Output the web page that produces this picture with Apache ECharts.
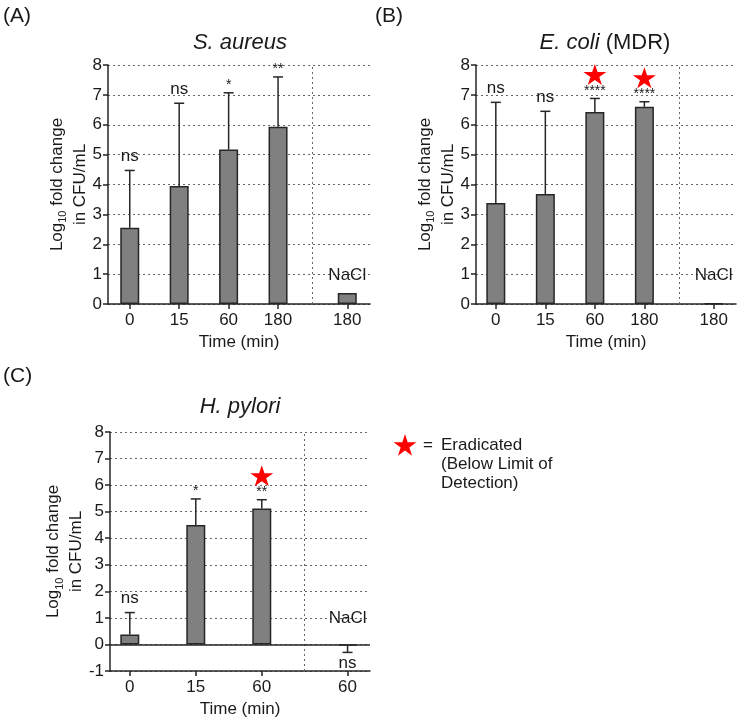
<!DOCTYPE html>
<html>
<head>
<meta charset="utf-8">
<script src="https://cdn.jsdelivr.net/npm/echarts@6/dist/echarts.min.js"></script>
<style>
  html, body { margin: 0; padding: 0; background: #fff; }
  #chart { width: 738px; height: 722px; }
</style>
</head>
<body>
<div id="chart"></div>
<script>
// tick labels under each bar (last one is the NaCl control)
var timesA = ['0', '15', '60', '180', '180'];
var timesB = ['0', '15', '60', '180', '180'];
var timesC = ['0', '15', '60', '60'];
// slot of each group on the x axis
var slotsAB = [1, 2, 3, 4, 5.4];
var slotsC = [1, 2, 3, 4.3];
var splitAB = 4.7;
var splitC = 3.65;

// S. aureus
var meanA = [2.55, 3.95, 5.17, 5.93, 0.37];
var errA = [4.47, 6.72, 7.07, 7.6, 0.37];
var sigA = ['ns', 'ns', '*', '**', ''];
var goneA = [0, 0, 0, 0, 0];

// E. coli (MDR)
var meanB = [3.38, 3.68, 6.43, 6.6, 0.02];
var errB = [6.75, 6.45, 6.88, 6.77, 0.02];
var sigB = ['ns', 'ns', '****', '****', ''];
var goneB = [0, 0, 1, 1, 0];

// H. pylori
var meanC = [0.37, 4.5, 5.12, -0.05];
var errC = [1.2, 5.48, 5.45, -0.3];
var sigC = ['ns', '*', '**', 'ns'];
var goneC = [0, 0, 1, 0];

var FONT = 'Liberation Sans, Arial, sans-serif';
var INK = '#1a1a1a';
var LINE = '#262626';
var STAR = 'path://M100,0 L122.45,69.1 L195.1,69.1 L136.33,111.8 L158.78,180.9 L100,138.2 L41.22,180.9 L63.67,111.8 L4.9,69.1 L77.55,69.1 Z';

var chart = echarts.init(document.getElementById('chart'));

function errorBar(params, api) {
  var x = api.value(0);
  var p0 = api.coord([x, api.value(1)]);
  var p1 = api.coord([x, api.value(2)]);
  var st = { stroke: LINE, lineWidth: 1.5 };
  return {
    type: 'group',
    children: [
      { type: 'line', shape: { x1: p0[0], y1: p0[1], x2: p1[0], y2: p1[1] }, style: st },
      { type: 'line', shape: { x1: p1[0] - 5, y1: p1[1], x2: p1[0] + 5, y2: p1[1] }, style: st }
    ]
  };
}

function xAxisFor(i, slots, labels, min, max) {
  return {
    type: 'value', gridIndex: i, min: min, max: max,
    name: 'Time (min)', nameLocation: 'middle', nameGap: 30,
    nameTextStyle: { fontSize: 17, color: INK, fontFamily: FONT },
    axisLine: { show: true, onZero: false, lineStyle: { color: LINE, width: 1.5 } },
    axisTick: { show: true, customValues: slots, length: 5, lineStyle: { color: LINE, width: 1.5 } },
    axisLabel: {
      customValues: slots, fontSize: 17, color: INK, fontFamily: FONT, margin: 8,
      formatter: function (v) {
        for (var k = 0; k < slots.length; k++) if (Math.abs(slots[k] - v) < 1e-6) return labels[k];
        return '';
      }
    },
    splitLine: { show: false }
  };
}

function yAxisFor(i, min) {
  return {
    type: 'value', gridIndex: i, min: min, max: 8, interval: 1,
    name: '{t|Log}{s|10}{t| fold change}\n{t|in CFU/mL}',
    nameLocation: 'middle', nameRotate: 90, nameGap: 15,
    nameTextStyle: {
      fontFamily: FONT, color: INK,
      rich: {
        t: { fontSize: 17, lineHeight: 23, fontFamily: FONT, color: INK },
        s: { fontSize: 11, lineHeight: 23, verticalAlign: 'bottom', padding: [9, 0, 0, 0], fontFamily: FONT, color: INK }
      }
    },
    axisLine: { show: true, lineStyle: { color: LINE, width: 1.5 } },
    axisTick: { show: true, length: 5, lineStyle: { color: LINE, width: 1.5 } },
    axisLabel: { fontSize: 17, color: INK, fontFamily: FONT, margin: 6 },
    splitLine: { show: true, lineStyle: { type: [2, 3], color: '#666', width: 1 } }
  };
}

function panelSeries(i, slots, mean, err, sig, gone, split) {
  var marks = [{ xAxis: split, lineStyle: { type: [2, 3], color: '#666', width: 1 } }];
  if (i === 2) marks.push({ yAxis: 0, lineStyle: { type: 'solid', color: LINE, width: 1.5 } });
  var last = slots.length - 1;
  return [
    {
      type: 'bar', xAxisIndex: i, yAxisIndex: i, barWidth: 19,
      data: slots.map(function (x, k) { return [x, mean[k]]; }),
      itemStyle: { color: '#808080', borderColor: LINE, borderWidth: 1.5 },
      markLine: { silent: true, symbol: ['none', 'none'], label: { show: false }, data: marks },
      markPoint: {
        silent: true,
        data: [{
          coord: [slots[last], 0.95], symbolSize: 1, itemStyle: { color: 'rgba(0,0,0,0)' },
          label: { show: true, formatter: 'NaCl', position: 'inside', fontSize: 17, color: INK, fontFamily: FONT }
        }]
      }
    },
    {
      type: 'custom', xAxisIndex: i, yAxisIndex: i, renderItem: errorBar,
      encode: { x: 0, y: [1, 2] },
      data: slots.map(function (x, k) { return [x, mean[k], err[k]]; })
        .filter(function (d) { return d[1] !== d[2]; })
    },
    {
      type: 'scatter', xAxisIndex: i, yAxisIndex: i, symbolSize: 1,
      itemStyle: { color: 'rgba(0,0,0,0)', opacity: 1 },
      data: slots.map(function (x, k) {
        var down = err[k] < mean[k];
        var ns = sig[k] === 'ns';
        return {
          value: [x, err[k]],
          label: {
            show: true, formatter: sig[k], position: down ? 'bottom' : 'top',
            distance: down ? 2 : (ns ? 5 : 0),
            fontSize: ns ? 17 : 14, color: INK, fontFamily: FONT
          }
        };
      })
    },
    {
      type: 'scatter', xAxisIndex: i, yAxisIndex: i,
      symbol: STAR, symbolSize: [23, 22], symbolKeepAspect: true, symbolOffset: [0, -24],
      itemStyle: { color: '#ff0000', opacity: 1 },
      data: slots.map(function (x, k) { return [x, err[k]]; })
        .filter(function (d, k) { return gone[k] === 1; })
    }
  ];
}

function starPoints(cx, cy, r) {
  var pts = [];
  for (var k = 0; k < 10; k++) {
    var a = -Math.PI / 2 + k * Math.PI / 5;
    var rr = k % 2 ? r * 0.382 : r;
    pts.push([cx + rr * Math.cos(a), cy + rr * Math.sin(a)]);
  }
  return pts;
}

function label(x, y, text, size, extra) {
  var st = { text: text, x: x, y: y, fontSize: size, fontFamily: FONT, fill: INK, textVerticalAlign: 'middle' };
  for (var k in extra) st[k] = extra[k];
  return { type: 'text', style: st };
}

var option = {
  backgroundColor: '#fff',
  animation: false,
  grid: [
    { left: 108, top: 65, width: 262, height: 239 },
    { left: 476, top: 65, width: 260, height: 239 },
    { left: 110, top: 432, width: 260, height: 239 }
  ],
  xAxis: [
    xAxisFor(0, slotsAB, timesA, 0.56, 5.86),
    xAxisFor(1, slotsAB, timesB, 0.6, 5.85),
    xAxisFor(2, slotsC, timesC, 0.7, 4.64)
  ],
  yAxis: [yAxisFor(0, 0), yAxisFor(1, 0), yAxisFor(2, -1)],
  series: []
    .concat(panelSeries(0, slotsAB, meanA, errA, sigA, goneA, splitAB))
    .concat(panelSeries(1, slotsAB, meanB, errB, sigB, goneB, splitAB))
    .concat(panelSeries(2, slotsC, meanC, errC, sigC, goneC, splitC)),
  graphic: [
    label(3, 16, '(A)', 21),
    label(375, 16, '(B)', 21),
    label(3, 376, '(C)', 21),
    label(240, 43, 'S. aureus', 22, { textAlign: 'center', fontStyle: 'italic' }),
    label(605, 43, '{i|E. coli} (MDR)', 22, {
      textAlign: 'center',
      rich: { i: { fontStyle: 'italic', fontSize: 22, fontFamily: FONT, fill: INK } }
    }),
    label(240, 407, 'H. pylori', 22, { textAlign: 'center', fontStyle: 'italic' }),
    { type: 'polygon', shape: { points: starPoints(405, 446, 12) }, style: { fill: '#ff0000' } },
    label(423, 445, '=', 17),
    label(441, 436, 'Eradicated\n(Below Limit of\nDetection)', 17, { textVerticalAlign: 'top', lineHeight: 19 })
  ]
};

chart.setOption(option);
</script>
</body>
</html>
